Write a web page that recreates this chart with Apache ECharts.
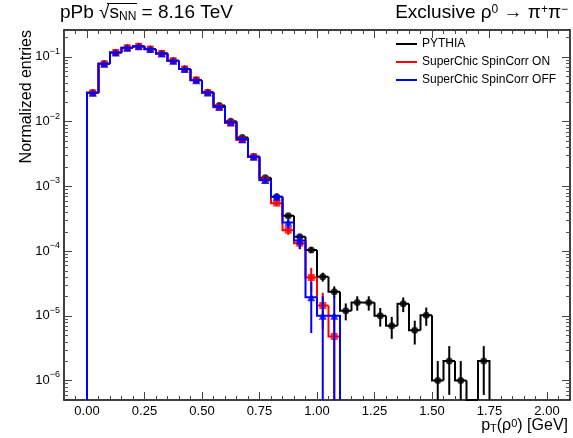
<!DOCTYPE html>
<html><head><meta charset="utf-8">
<script src="https://cdn.jsdelivr.net/npm/echarts@6/dist/echarts.min.js"></script>
<style>html,body{margin:0;padding:0;background:#fff}#c{width:573px;height:438px}</style>
</head><body><div id="c"></div>
<script>
// ---- data (bin width 0.05 GeV, first bin starts at 0) ----
const binStart = 0.0;
const binWidth = 0.05;
const pythiaVals = [0.0278, 0.078, 0.116, 0.137, 0.145, 0.131, 0.113, 0.087, 0.065, 0.044,
  0.0283, 0.0178, 0.0101, 0.0057, 0.0029, 0.00136, 0.00069, 0.00035, 0.000167, 0.000104,
  0.00004, 0.0000236, 0.000012, 0.000016, 0.000016, 0.00001, 0.000007, 0.0000153, 0.000006, 0.0000102,
  0.000001, 0.000002, 0.000001, 0, 0.000002];
const pythiaErrs = [0.00017, 0.00028, 0.00034, 0.00037, 0.00038, 0.00036, 0.00034, 0.0003, 0.00025, 0.00021,
  0.00017, 0.00013, 0.0001, 0.000075, 0.000054, 0.000037, 0.000026, 0.000019, 0.000013, 0.00001,
  0.0000063, 0.0000049, 0.0000035, 0.000004, 0.000004, 0.0000032, 0.0000026, 0.0000039, 0.0000024, 0.0000032,
  0.000001, 0.0000014, 0.000001, 0, 0.0000014];
const onVals = [0.0278, 0.078, 0.117, 0.138, 0.146, 0.132, 0.113, 0.087, 0.065, 0.044,
  0.028, 0.0166, 0.0095, 0.0052, 0.00285, 0.00124, 0.00055, 0.00021, 0.000132, 0.000039,
  0.0000144, 0.0000048];
const onErrs = [0.00037, 0.0006, 0.00075, 0.0008, 0.00083, 0.0008, 0.00074, 0.00065, 0.00056, 0.00046,
  0.00037, 0.00028, 0.00021, 0.00016, 0.000117, 0.000077, 0.000051, 0.000032, 0.000025, 0.000016,
  0.0000083, 0.0000048];
const offVals = [0.0278, 0.078, 0.117, 0.138, 0.146, 0.132, 0.113, 0.087, 0.065, 0.0437,
  0.0282, 0.0169, 0.0098, 0.0054, 0.00286, 0.00125, 0.00069, 0.000275, 0.000145, 0.0000194,
  0.00001, 0.00001];
const offErrs = [0.00053, 0.00088, 0.00108, 0.00117, 0.0012, 0.00115, 0.00106, 0.00093, 0.00081, 0.00066,
  0.00053, 0.00041, 0.00031, 0.00023, 0.00017, 0.00011, 0.000083, 0.000052, 0.000038, 0.000014,
  0.00001, 0.00001];
const xTickLabels = [0, 0.25, 0.5, 0.75, 1.0, 1.25, 1.5, 1.75, 2.0];
const yTickLabels = [1e-6, 1e-5, 1e-4, 1e-3, 1e-2, 1e-1];
const seriesNames = ['PYTHIA', 'SuperChic SpinCorr ON', 'SuperChic SpinCorr OFF'];

// ---- layout constants ----
const X_MIN = -0.1, X_MAX = 2.1, Y_MIN = 5e-7, Y_MAX = 0.26;
const FONT = '"Liberation Sans", Arial, Helvetica, sans-serif';

function histData(vals) {
  return vals.map((v, i) => [binStart + i * binWidth, binStart + (i + 1) * binWidth, v,
    i === 0 ? 0 : vals[i - 1], i === vals.length - 1 ? 1 : 0]);
}
function pointData(vals) {
  const out = [];
  vals.forEach((v, i) => { if (v > 0) out.push([binStart + (i + 0.5) * binWidth, v]); });
  return out;
}
function errData(vals, errs) {
  const out = [];
  vals.forEach((v, i) => { if (v > 0 && errs[i] > 0) out.push([binStart + (i + 0.5) * binWidth, v, errs[i]]); });
  return out;
}
const cl = t => Math.max(t, Y_MIN);
function histRender(color) {
  return function (params, api) {
    const x0 = api.value(0), x1 = api.value(1), v = api.value(2), pv = api.value(3), last = api.value(4);
    const pts = [api.coord([x0, cl(pv)]), api.coord([x0, cl(v)]), api.coord([x1, cl(v)])];
    if (last) pts.push(api.coord([x1, Y_MIN]));
    return { type: 'polyline', shape: { points: pts }, style: { stroke: color, lineWidth: 2, fill: 'none' } };
  };
}
function errRender(color) {
  return function (params, api) {
    const x = api.value(0), v = api.value(1), e = api.value(2);
    const a = api.coord([x, cl(v - e)]), b = api.coord([x, v + e]);
    return { type: 'line', shape: { x1: a[0], y1: a[1], x2: b[0], y2: b[1] }, style: { stroke: color, lineWidth: 2 } };
  };
}
function minorTickRender(params, api) {
  const children = [];
  for (let n = -7; n <= -1; n++) {
    for (let k = 2; k <= 9; k++) {
      const v = k * Math.pow(10, n);
      if (v <= Y_MIN || v >= Y_MAX) continue;
      const l = api.coord([X_MIN, v]), r = api.coord([X_MAX, v]);
      const y = Math.round(l[1]) + 0.5;
      children.push({ type: 'line', shape: { x1: l[0], y1: y, x2: l[0] + 4, y2: y }, style: { stroke: '#555', lineWidth: 1 } });
      children.push({ type: 'line', shape: { x1: r[0], y1: y, x2: r[0] - 4, y2: y }, style: { stroke: '#555', lineWidth: 1 } });
    }
  }
  return { type: 'group', children };
}

const colors = ['#000000', '#ff0000', '#0000ff'];
const symbols = ['circle', 'rect', 'triangle'];
const symSizes = [7, 7, 8];
const allVals = [pythiaVals, onVals, offVals];
const allErrs = [pythiaErrs, onErrs, offErrs];

const series = [{
  type: 'custom', name: 'minorTicks', silent: true, renderItem: minorTickRender,
  data: [[0, 1e-3]], z: 1
}];
for (let s = 0; s < 3; s++) {
  series.push({
    type: 'custom', name: seriesNames[s], renderItem: histRender(colors[s]),
    data: histData(allVals[s]), encode: { x: [0, 1], y: 2 }, itemStyle: { color: colors[s] },
    silent: true, z: 2 + s * 3
  });
  series.push({
    type: 'custom', name: seriesNames[s] + ' err', renderItem: errRender(colors[s]),
    data: errData(allVals[s], allErrs[s]), encode: { x: 0, y: 1 }, silent: true, z: 3 + s * 3
  });
  series.push({
    type: 'scatter', name: seriesNames[s] + ' pts', symbol: symbols[s], symbolSize: symSizes[s],
    itemStyle: { color: colors[s] }, data: pointData(allVals[s]), silent: true, z: 4 + s * 3
  });
}

const axisLineStyle = { show: true, onZero: false, lineStyle: { color: '#000', width: 1.5 } };
const tickStyle = { color: '#444', width: 1 };
const supRich = {
  base: { fontSize: 13, fontFamily: FONT, color: '#000', lineHeight: 20 },
  sup: { fontSize: 9, fontFamily: FONT, color: '#000', verticalAlign: 'top', lineHeight: 10 }
};

const option = {
  animation: false,
  grid: { left: 64, right: 3, top: 30, bottom: 38, containLabel: false },
  legend: {
    data: seriesNames, orient: 'vertical', left: 396, top: 37, padding: 0, itemGap: 4,
    icon: 'rect', itemWidth: 21, itemHeight: 2, selectedMode: false,
    textStyle: { fontSize: 12, fontFamily: FONT, color: '#000', lineHeight: 14 }
  },
  xAxis: [
    { type: 'value', min: X_MIN, max: X_MAX, position: 'bottom', axisLine: axisLineStyle,
      axisTick: { show: true, inside: true, length: 8, customValues: xTickLabels, lineStyle: tickStyle },
      axisLabel: { customValues: xTickLabels, formatter: v => v.toFixed(2), fontSize: 13, fontFamily: FONT, color: '#000', margin: 5 },
      splitLine: { show: false } },
    { type: 'value', min: X_MIN, max: X_MAX, interval: 0.05, position: 'bottom', axisLine: { show: false, onZero: false },
      axisTick: { show: true, inside: true, length: 4, lineStyle: tickStyle }, axisLabel: { show: false }, splitLine: { show: false } },
    { type: 'value', min: X_MIN, max: X_MAX, position: 'top', axisLine: axisLineStyle,
      axisTick: { show: true, inside: true, length: 8, customValues: xTickLabels, lineStyle: tickStyle },
      axisLabel: { show: false }, splitLine: { show: false } },
    { type: 'value', min: X_MIN, max: X_MAX, interval: 0.05, position: 'top', axisLine: { show: false, onZero: false },
      axisTick: { show: true, inside: true, length: 4, lineStyle: tickStyle }, axisLabel: { show: false }, splitLine: { show: false } }
  ],
  yAxis: [
    { type: 'log', logBase: 10, min: Y_MIN, max: Y_MAX, position: 'left', axisLine: axisLineStyle,
      axisTick: { show: true, inside: true, length: 8, lineStyle: tickStyle },
      axisLabel: {
        showMinLabel: false, showMaxLabel: false, margin: 4,
        formatter: function (v) {
          const r = Math.round(Math.log10(v));
          if (!yTickLabels.some(t => Math.abs(Math.log10(t) - Math.log10(v)) < 1e-6)) return '';
          return '{base|10}{sup|\u2212' + (-r) + '}';
        },
        rich: supRich
      },
      splitLine: { show: false } },
    { type: 'log', logBase: 10, min: Y_MIN, max: Y_MAX, position: 'right', axisLine: axisLineStyle,
      axisTick: { show: true, inside: true, length: 8, lineStyle: tickStyle },
      axisLabel: { show: false }, splitLine: { show: false } }
  ],
  graphic: [
    { type: 'text', x: 60, y: 13, style: {
        text: 'pPb \u221A{it|s}{sub|NN} = 8.16 TeV', align: 'left', verticalAlign: 'middle',
        font: '19px ' + FONT, fill: '#000',
        rich: { it: { fontSize: 19, fontFamily: FONT }, sub: { fontSize: 12, fontFamily: FONT, verticalAlign: 'bottom', lineHeight: 13 } }
      } },
    { type: 'line', shape: { x1: 107, y1: 3.5, x2: 137, y2: 3.5 }, style: { stroke: '#000', lineWidth: 1 } },
    { type: 'text', x: 568, y: 13, style: {
        text: 'Exclusive \u03C1{sup|0} \u2192 \u03C0{sup|+}\u03C0{sup|\u2212}', align: 'right', verticalAlign: 'middle',
        font: '19px ' + FONT, fill: '#000',
        rich: { sup: { fontSize: 12, fontFamily: FONT, verticalAlign: 'top', lineHeight: 13 } }
      } },
    { type: 'text', x: 568, y: 426, style: {
        text: 'p{sub|T}(\u03C1{sup|0}) [GeV]', align: 'right', verticalAlign: 'middle',
        font: '16px ' + FONT, fill: '#000',
        rich: { sub: { fontSize: 11, fontFamily: FONT, verticalAlign: 'bottom', lineHeight: 12 },
                sup: { fontSize: 11, fontFamily: FONT, verticalAlign: 'top', lineHeight: 12 } }
      } },
    { type: 'text', x: 27, y: 30, rotation: Math.PI / 2, style: {
        text: 'Normalized entries', align: 'right', verticalAlign: 'middle', font: '16px ' + FONT, fill: '#000'
      } }
  ],
  series: series
};
const chart = echarts.init(document.getElementById('c'), null, { renderer: 'canvas' });
chart.setOption(option);
</script></body></html>
